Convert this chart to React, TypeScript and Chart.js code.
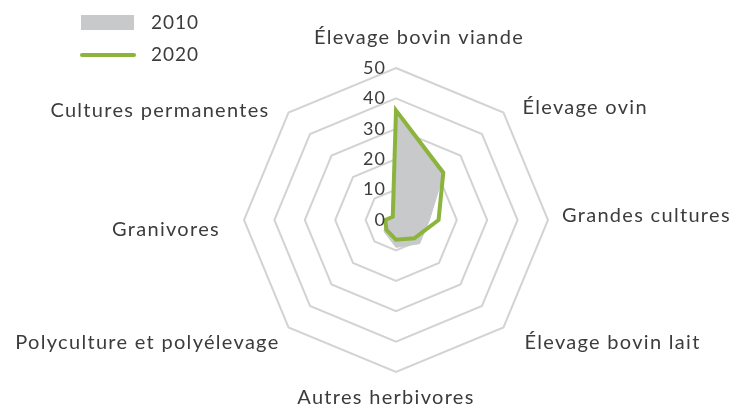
import React, { useEffect, useRef } from "react";
import { Chart, registerables } from "chart.js";

Chart.register(...registerables);

const categories = [
  "Élevage bovin viande",
  "Élevage ovin",
  "Grandes cultures",
  "Élevage bovin lait",
  "Autres herbivores",
  "Polyculture et polyélevage",
  "Granivores",
  "Cultures permanentes",
];
const values2010 = [34.5, 22.5, 11, 11, 9, 5.5, 3.5, 2];
const values2020 = [36, 22, 14, 8.5, 6.5, 4.5, 3.5, 1.5];
const tickValues = [0, 10, 20, 30, 40, 50];
const seriesNames = ["2010", "2020"];

const FONT = "Lato, 'Open Sans', sans-serif";
const TEXT_COLOR = "#3c3c3c";
const GRAY = "#c8c9cb";
const GREEN = "#8cb43c";

// label placement relative to each axis end point (layout only)
const LABEL_LAYOUT = [
  { dx: 23, dy: -30, align: "center" },
  { dx: 19, dy: -5, align: "left" },
  { dx: 14, dy: -4, align: "left" },
  { dx: 21, dy: 15, align: "left" },
  { dx: -10, dy: 26, align: "center" },
  { dx: -9, dy: 15, align: "right" },
  { dx: -24, dy: 10, align: "right" },
  { dx: -19, dy: -2, align: "right" },
];

const labelsPlugin = {
  id: "customLabels",
  afterDraw(chart: any) {
    const scale = chart.scales.r;
    const ctx = chart.ctx;
    ctx.save();
    // point labels
    ctx.font = `20px ${FONT}`;
    (ctx as any).letterSpacing = "1.3px";
    ctx.fillStyle = TEXT_COLOR;
    ctx.textBaseline = "middle";
    categories.forEach((name, i) => {
      const p = scale.getPointPosition(i, scale.drawingArea);
      const l = LABEL_LAYOUT[i];
      ctx.textAlign = l.align;
      ctx.fillText(name, p.x + l.dx, p.y + l.dy);
    });
    // tick labels
    ctx.font = `18px ${FONT}`;
    (ctx as any).letterSpacing = "1px";
    ctx.textAlign = "right";
    tickValues.forEach((v) => {
      const d = scale.getDistanceFromCenterForValue(v);
      ctx.fillText(String(v), scale.xCenter - 10, scale.yCenter - d);
    });
    // legend
    ctx.font = `19px ${FONT}`;
    ctx.textAlign = "left";
    ctx.fillStyle = GRAY;
    ctx.fillRect(81, 15, 53, 15);
    ctx.fillStyle = TEXT_COLOR;
    ctx.fillText(seriesNames[0], 151, 23);
    ctx.strokeStyle = GREEN;
    ctx.lineWidth = 4;
    ctx.lineCap = "round";
    ctx.beginPath();
    ctx.moveTo(82, 55);
    ctx.lineTo(134, 55);
    ctx.stroke();
    ctx.fillText(seriesNames[1], 151, 55);
    ctx.restore();
  },
};

export default function App() {
  const ref = useRef<HTMLCanvasElement>(null);
  useEffect(() => {
    if (!ref.current) return;
    const chart = new Chart(ref.current, {
      type: "radar",
      data: {
        labels: categories,
        datasets: [
          {
            label: seriesNames[0],
            data: values2010,
            backgroundColor: GRAY,
            borderColor: GRAY,
            borderWidth: 1,
            fill: true,
            pointRadius: 0,
            order: 2,
          },
          {
            label: seriesNames[1],
            data: values2020,
            borderColor: GREEN,
            backgroundColor: "rgba(0,0,0,0)",
            borderWidth: 4,
            fill: false,
            pointRadius: 0,
            order: 1,
          },
        ],
      },
      options: {
        animation: false,
        responsive: true,
        maintainAspectRatio: false,
        layout: { padding: { left: 244, right: 191, top: 68, bottom: 37 } },
        plugins: { legend: { display: false }, tooltip: { enabled: false } },
        scales: {
          r: {
            min: 0,
            max: 50,
            ticks: { stepSize: 10, display: false },
            pointLabels: { display: false },
            angleLines: { display: false },
            grid: { color: "#d3d3d3", lineWidth: 2 },
          },
        },
      },
      plugins: [labelsPlugin],
    });
    return () => chart.destroy();
  }, []);
  return (
    <div style={{ width: 739, height: 409, margin: "-8px 0 0 -8px", position: "relative" }}>
      <canvas ref={ref} />
    </div>
  );
}
